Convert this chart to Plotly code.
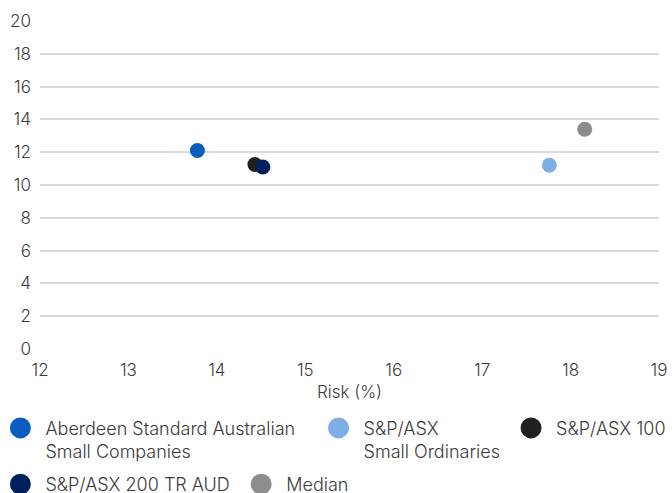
import plotly.graph_objects as go

# Risk / return points for each fund and benchmark
names = [
    "Aberdeen Standard Australian<br>Small Companies",
    "S&P/ASX<br>Small Ordinaries",
    "S&P/ASX 100",
    "S&P/ASX 200 TR AUD",
    "Median",
]
risk = [13.78, 17.76, 14.43, 14.52, 18.16]
ret = [12.1, 11.2, 11.25, 11.1, 13.4]
colors = ["#0a5cc0", "#7eaee3", "#202020", "#00215e", "#8b8e8d"]

x_ticks = [12, 13, 14, 15, 16, 17, 18, 19]
y_ticks = [0, 2, 4, 6, 8, 10, 12, 14, 16, 18, 20]

# each legend entry gets its own legend box so the entries can sit at
# individual positions under the chart (two rows)
legend_ids = ["legend", "legend2", "legend3", "legend4", "legend5"]
legend_pos = [(-0.064, -0.185), (0.45, -0.185), (0.761, -0.185),
              (-0.064, -0.3565), (0.325, -0.3565)]

text_color = "#3a3a3a"
font_family = "Inter, Lato, Noto Sans, sans-serif"
NBSP = "\u00a0"

def legend_label(name):
    # small indent between swatch and text, on every line
    return "<br>".join(NBSP + part for part in name.split("<br>"))

fig = go.Figure()
for n, x, y, c, lg in zip(names, risk, ret, colors, legend_ids):
    fig.add_trace(go.Scatter(
        x=[x], y=[y], mode="markers", name=n.replace("<br>", " "),
        marker=dict(size=15, color=c), showlegend=False,
    ))
    # legend swatch (larger than the plotted marker)
    fig.add_trace(go.Scatter(
        x=[None], y=[None], mode="markers", name=legend_label(n), legend=lg,
        marker=dict(size=16, color=c, line=dict(width=5, color=c)),
        hoverinfo="skip",
    ))

layout_legends = {}
for lg, (lx, ly) in zip(legend_ids, legend_pos):
    layout_legends[lg] = dict(
        orientation="h", x=lx, xanchor="left", y=ly, yanchor="top",
        valign="top", bgcolor="rgba(0,0,0,0)", borderwidth=0,
        font=dict(family=font_family, size=18, color=text_color, weight=300),
    )

fig.update_layout(
    width=672, height=493,
    margin=dict(l=40, r=13, t=21, b=144, autoexpand=False),
    paper_bgcolor="white", plot_bgcolor="white",
    font=dict(family=font_family, size=17, color=text_color, weight=300),
    xaxis=dict(
        range=[12, 19], tickvals=x_ticks, showgrid=False, zeroline=False,
        showline=False, ticks="", ticklabelstandoff=9,
        tickfont=dict(family=font_family, size=17, color=text_color, weight=300),
        title=dict(text="Risk (%)", standoff=7,
                   font=dict(family=font_family, size=17, color=text_color, weight=300)),
    ),
    yaxis=dict(
        range=[0, 20], tickvals=y_ticks, showgrid=True, gridcolor="#d9d9d9",
        gridwidth=1.5, zeroline=False, showline=False, ticks="",
        ticklabelstandoff=8,
        tickfont=dict(family=font_family, size=17, color=text_color, weight=300),
    ),
    showlegend=True,
    **layout_legends,
)

fig.write_html("out.html")
